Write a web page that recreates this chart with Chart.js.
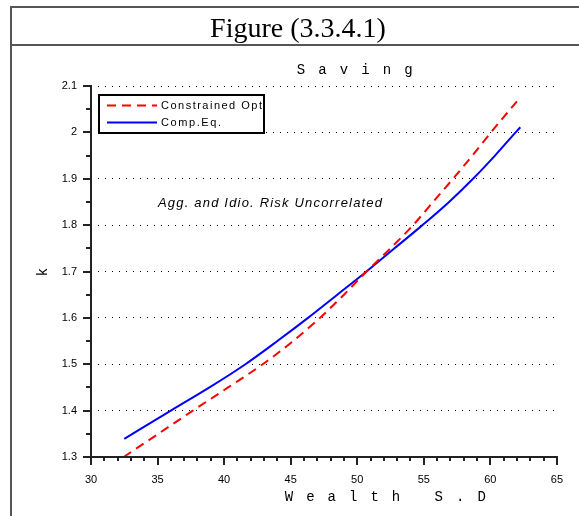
<!DOCTYPE html>
<html>
<head>
<meta charset="utf-8">
<script src="https://cdn.jsdelivr.net/npm/chart.js@4.4.1/dist/chart.umd.min.js"></script>
<style>
  html, body { margin: 0; padding: 0; background: #fff; }
  #wrap { width: 579px; height: 516px; }
</style>
</head>
<body>
<div id="wrap"><canvas id="c" width="579" height="516"></canvas></div>
<script>
// values
const optX = [32.45, 35, 37.65, 40.3, 42.9, 45.1, 47.2, 49.0, 50.7, 52.5, 54.2, 55.7, 57.2, 58.65, 60.05, 62.0];
const optK = [1.300, 1.349, 1.400, 1.450, 1.500, 1.548, 1.600, 1.650, 1.700, 1.750, 1.800, 1.850, 1.900, 1.950, 2.000, 2.067];

const eqX = [32.5, 36.0, 38.9, 41.6, 44.0, 46.3, 48.5, 50.7, 52.8, 54.9, 56.9, 58.7, 60.35, 61.9, 62.25];
const eqK = [1.339, 1.400, 1.450, 1.500, 1.550, 1.600, 1.650, 1.700, 1.750, 1.800, 1.850, 1.900, 1.950, 2.000, 2.011];

const xTicks = [30, 35, 40, 45, 50, 55, 60, 65];
const yTicks = [1.3, 1.4, 1.5, 1.6, 1.7, 1.8, 1.9, 2.0, 2.1];

const seriesNames = ['Constrained Opt', 'Comp.Eq.'];

function pts(xs, ys) {
    return xs.map((x, i) => ({ x: x, y: ys[i] }));
}

// draw a string stretched to a given width (letter spaced)
function spread(ctx, str, x, y, width) {
    const w = ctx.measureText(str).width;
    const extra = str.length > 1 ? (width - w) / (str.length - 1) : 0;
    let cx = x;
    for (const ch of str) {
        ctx.fillText(ch, cx, y);
        cx += ctx.measureText(ch).width + extra;
    }
}

function spaced(ctx, chars, cx0, y, step) {
    ctx.textAlign = 'center';
    chars.forEach((ch, i) => { if (ch !== ' ') ctx.fillText(ch, cx0 + i * step, y); });
}

const decor = {
    id: 'decor',
    afterDraw(chart) {
        const ctx = chart.ctx;
        const xs = chart.scales.x, ys = chart.scales.y;
        const area = chart.chartArea;
        ctx.save();

        // frame
        ctx.strokeStyle = '#555';
        ctx.lineWidth = 2;
        ctx.beginPath();
        ctx.moveTo(11, 516); ctx.lineTo(11, 7); ctx.lineTo(579, 7);
        ctx.moveTo(11, 45); ctx.lineTo(579, 45);
        ctx.stroke();

        // figure heading
        ctx.fillStyle = '#000';
        ctx.font = '28px "Liberation Serif", "Times New Roman", serif';
        ctx.textAlign = 'center';
        ctx.textBaseline = 'alphabetic';
        ctx.fillText('Figure (3.3.4.1)', 298, 37);

        // titles in mono, letter spaced
        ctx.font = '14px "Liberation Mono", "Courier New", monospace';
        ctx.textBaseline = 'middle';
        spaced(ctx, 'Saving'.split(''), 301, 70, 21.5);
        spaced(ctx, 'Wealth S.D'.split(''), 289, 497, 21.4);

        ctx.save();
        ctx.translate(43, 272);
        ctx.rotate(-Math.PI / 2);
        ctx.textAlign = 'center';
        ctx.fillText('k', 0, 0);
        ctx.restore();

        // annotation
        ctx.font = 'italic 13px "Liberation Sans", Arial, sans-serif';
        ctx.textAlign = 'left';
        spread(ctx, 'Agg. and Idio. Risk Uncorrelated', 158, 203, 224);

        // axes
        ctx.strokeStyle = '#222';
        ctx.lineWidth = 2;
        ctx.beginPath();
        ctx.moveTo(area.left, area.top - 1); ctx.lineTo(area.left, area.bottom);
        ctx.lineTo(area.right + 1, area.bottom);
        ctx.stroke();

        ctx.beginPath();
        for (let v = 30; v <= 65.001; v += 1) {
            const px = Math.round(xs.getPixelForValue(v));
            const major = Math.abs(v % 5) < 1e-6;
            ctx.moveTo(px, area.bottom);
            ctx.lineTo(px, area.bottom + (major ? 8 : 4));
        }
        for (let i = 0; i <= 16; i++) {
            const v = 1.3 + i * 0.05;
            const py = Math.round(ys.getPixelForValue(v));
            ctx.moveTo(area.left, py);
            ctx.lineTo(area.left - (i % 2 === 0 ? 8 : 5), py);
        }
        ctx.stroke();

        // legend
        const lx = 99, ly = 95;
        ctx.lineWidth = 2;
        ctx.strokeStyle = '#000';
        ctx.strokeRect(lx, ly, 165, 38);
        chart.data.datasets.forEach((ds, i) => {
            const y = ly + 10.5 + i * 17;
            ctx.strokeStyle = ds.borderColor;
            ctx.lineWidth = 2;
            ctx.setLineDash(ds.borderDash || []);
            ctx.beginPath();
            ctx.moveTo(lx + 8, y); ctx.lineTo(lx + 58, y);
            ctx.stroke();
            ctx.setLineDash([]);
            ctx.fillStyle = '#000';
            ctx.font = '11px "Liberation Sans", Arial, sans-serif';
            ctx.textBaseline = 'middle';
            ctx.textAlign = 'left';
            spread(ctx, ds.label, lx + 62, y, i === 0 ? 101 : 60);
        });

        ctx.restore();
    }
};

new Chart(document.getElementById('c'), {
    type: 'line',
    data: {
        datasets: [{
            label: seriesNames[0],
            data: pts(optX, optK),
            borderColor: '#ff0000',
            borderWidth: 2,
            borderDash: [9, 6],
            pointRadius: 0,
            cubicInterpolationMode: 'monotone',
            fill: false
        }, {
            label: seriesNames[1],
            data: pts(eqX, eqK),
            borderColor: '#0000ff',
            borderWidth: 2,
            pointRadius: 0,
            cubicInterpolationMode: 'monotone',
            fill: false
        }]
    },
    options: {
        responsive: false,
        animation: false,
        devicePixelRatio: 1,
        layout: { padding: { left: 0, top: 86, right: 21, bottom: 0 } },
        plugins: {
            legend: { display: false },
            title: { display: false },
            tooltip: { enabled: false }
        },
        scales: {
            x: {
                type: 'linear',
                min: 30,
                max: 65,
                afterFit: (s) => { s.height = 59; },
                afterBuildTicks: (s) => { s.ticks = xTicks.map(v => ({ value: v })); },
                grid: { display: false, drawTicks: false },
                border: { display: false },
                ticks: {
                    color: '#000',
                    padding: 16,
                    maxRotation: 0,
                    font: { family: '"Liberation Sans", Arial, sans-serif', size: 11 }
                }
            },
            y: {
                type: 'linear',
                min: 1.3,
                max: 2.1,
                afterFit: (s) => { s.width = 91; },
                afterBuildTicks: (s) => { s.ticks = yTicks.map(v => ({ value: v })); },
                grid: { color: '#000', lineWidth: 1, drawTicks: false },
                border: { display: false, dash: [1, 6], dashOffset: -7 },
                ticks: {
                    color: '#000',
                    padding: 14,
                    font: { family: '"Liberation Sans", Arial, sans-serif', size: 11 },
                    callback: (v) => String(Number(v.toFixed(2)))
                }
            }
        }
    },
    plugins: [decor]
});
</script>
</body>
</html>
